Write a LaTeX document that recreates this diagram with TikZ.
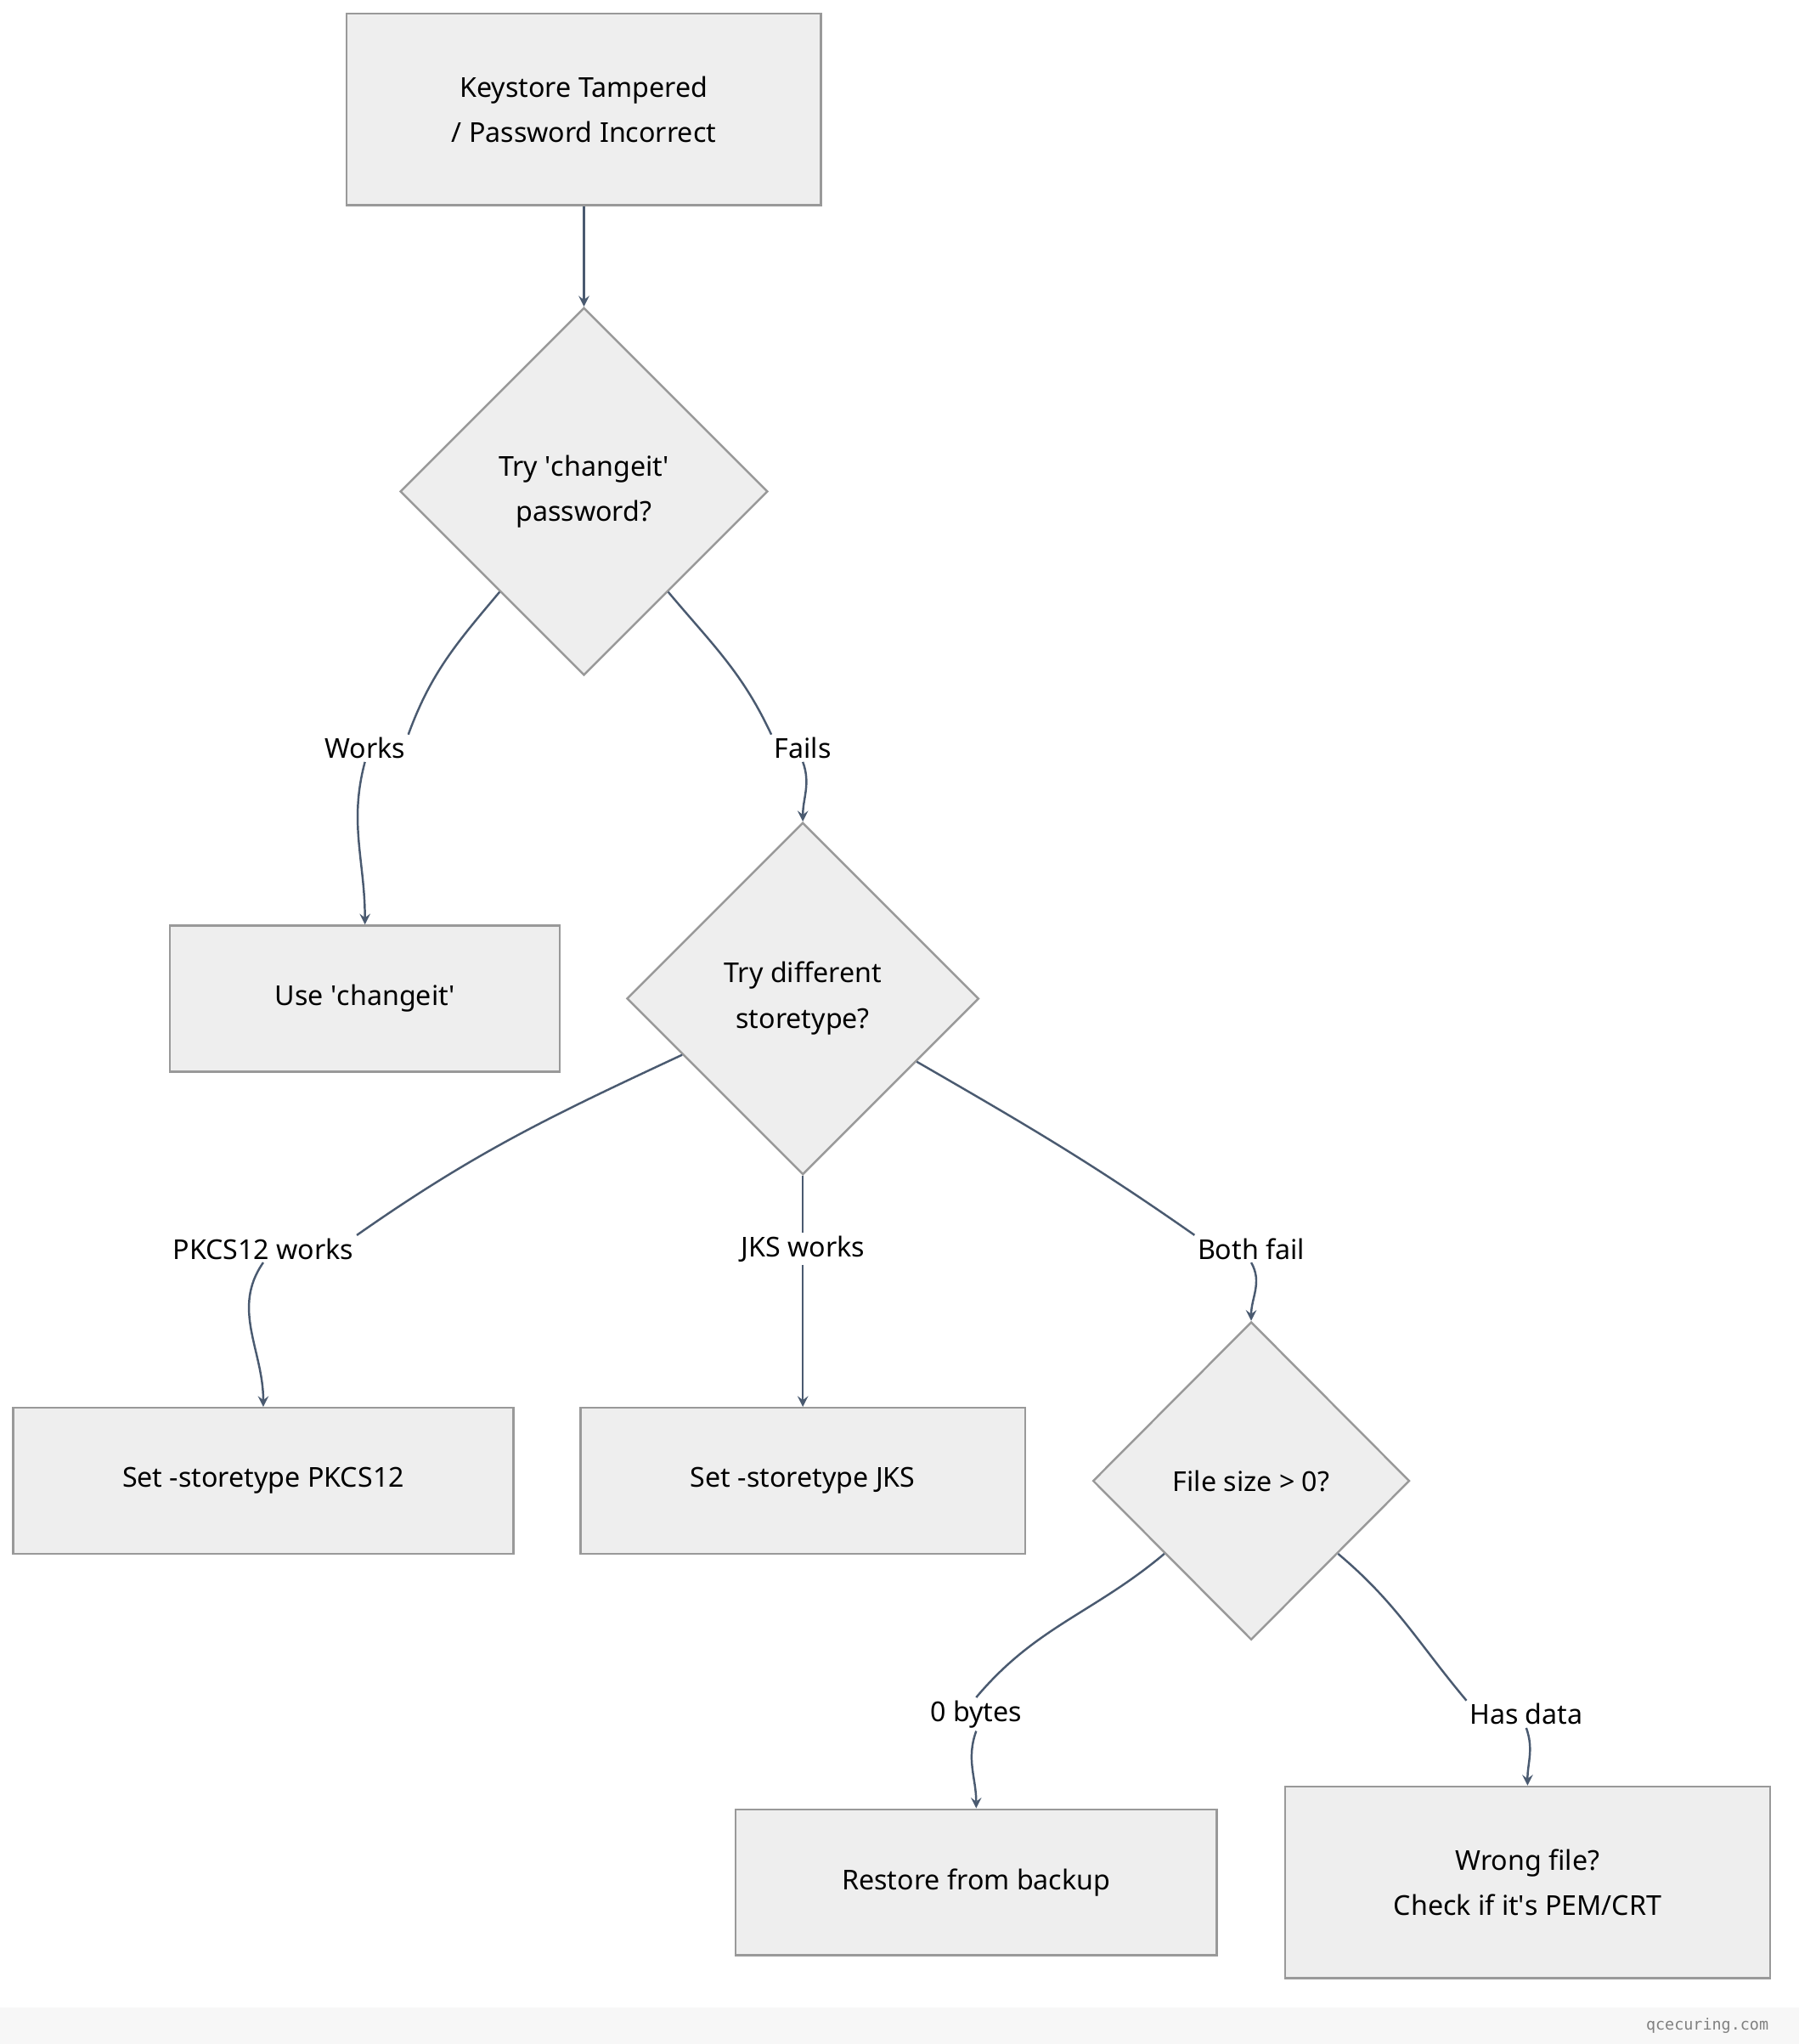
\documentclass[tikz,border=0pt]{standalone}
\usepackage{fontspec}
\setmainfont{Noto Sans}
\setmonofont{DejaVu Sans Mono}
\usetikzlibrary{arrows,shapes,positioning}
\definecolor{edgecol}{HTML}{4A5A70}
\definecolor{boxfill}{HTML}{EEEEEE}
\definecolor{boxline}{HTML}{999999}
\tikzstyle{line}=[draw=edgecol,thick]
\tikzstyle{arrow}=[line,-stealth]
\tikzstyle{block} =
  [rectangle, draw=boxline, fill=boxfill, thick, text centered, align=center,
   font=\fontsize{10.5}{17.5}\selectfont]
\tikzstyle{decision} =
  [diamond, draw=boxline, fill=boxfill, thick, text centered, align=center,
   inner sep=0pt, aspect=1, font=\fontsize{10.5}{17.5}\selectfont]
\tikzstyle{lbl} = [font=\fontsize{10.5}{13}\selectfont, inner sep=1pt]
\newcommand{\q}{\textquotesingle}

\begin{document}
\begin{tikzpicture}[x=0.5pt, y=-0.5pt]
  \useasboundingbox (0,0) rectangle (1380,1568);
  \fill[gray!6] (0,1540) rectangle (1380,1568);
  \node[anchor=east, text=gray, font=\ttfamily\fontsize{6}{7}\selectfont] (site) at (1364,1554) {qcecuring.com};

  \node [block, minimum width=182pt, minimum height=73.5pt] (start) at (448,84) {Keystore Tampered\\/ Password Incorrect};
  \node [decision, minimum width=141pt, minimum height=141pt] (pw) at (448,377) {Try \q changeit\q\\password?};
  \node [lbl] (works) at (280,574) {Works};
  \node [lbl] (fails) at (616,574) {Fails};
  \node [block, minimum width=149.5pt, minimum height=56pt] (use) at (280,766) {Use \q changeit\q};
  \node [decision, minimum width=135pt, minimum height=135pt] (st) at (616,766) {Try different\\storetype?};
  \node [lbl] (pk) at (202,958) {PKCS12 works};
  \node [lbl] (jk) at (616,958) {JKS works};
  \node [lbl] (bf) at (960,958) {Both fail};
  \node [block, minimum width=192pt, minimum height=56pt] (setpk) at (202,1136) {Set -storetype PKCS12};
  \node [block, minimum width=170.5pt, minimum height=56pt] (setjk) at (616,1136) {Set -storetype JKS};
  \node [decision, minimum width=121.5pt, minimum height=122pt] (size) at (960,1136) {File size > 0?};
  \node [lbl] (zero) at (749,1315) {0 bytes};
  \node [lbl] (data) at (1171,1315) {Has data};
  \node [block, minimum width=184.5pt, minimum height=56pt] (restore) at (749,1444) {Restore from backup};
  \node [block, minimum width=186pt, minimum height=73.5pt] (wrong) at (1172,1444) {Wrong file?\\Check if it\q s PEM/CRT};

  \draw [arrow] (start) to (pw);
  \draw [line] (pw.230) to [out=230, in=70] (works.north east);
  \draw [arrow] (works.south) to [out=255, in=90] (use.north);
  \draw [line] (pw.310) to [out=-50, in=115] (fails.north west);
  \draw [arrow] (fails.south) to [out=-70, in=90] (st.north);
  \draw [line] (st.205) to [out=205, in=35] (pk.north east);
  \draw [arrow] (pk.south) to [out=235, in=90] (setpk.north);
  \draw [line] (st.south) to (jk.north);
  \draw [arrow] (jk.south) to (setjk.north);
  \draw [line] (st.331) to [out=-30, in=145] (bf.north west);
  \draw [arrow] (bf.south) to [out=-60, in=90] (size.north);
  \draw [line] (size.220) to [out=220, in=50] (zero.north);
  \draw [arrow] (zero.south) to [out=250, in=90] (restore.north);
  \draw [line] (size.320) to [out=-40, in=130] (data.north west);
  \draw [arrow] (data.south) to [out=-70, in=90] (wrong.north);
\end{tikzpicture}
\end{document}
